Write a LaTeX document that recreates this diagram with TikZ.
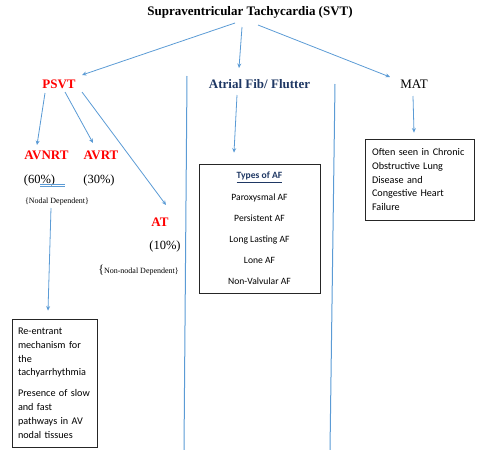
\documentclass[tikz,border=0pt]{standalone}
\usepackage{fontspec}
\setmainfont{Liberation Serif}
\newfontfamily\calfont{Carlito}
\usetikzlibrary{arrows.meta}
\definecolor{arrowblue}{HTML}{5B9BD5}
\definecolor{hred}{HTML}{FF0000}
\definecolor{hnavy}{HTML}{1F3864}
\tikzset{
  lbl/.style={inner sep=0pt, anchor=center},
  head/.style={lbl, font=\bfseries\fontsize{13}{15}\selectfont},
  pct/.style={lbl, font=\fontsize{12.5}{14}\selectfont},
  small/.style={lbl, font=\fontsize{8}{9}\selectfont},
  infobox/.style={draw=black!85, line width=0.8pt, inner ysep=0pt},
  conn/.style={draw=arrowblue, line width=0.8pt, -{Stealth[length=4.5pt,width=4pt]}},
  divider/.style={draw=arrowblue, line width=1pt}
}
\begin{document}
\begin{tikzpicture}[x=1pt,y=1pt]
\useasboundingbox (0,0) rectangle (477,-450);
% vertical dividers
\draw[divider] (187,-76) -- (184,-450);
\draw[divider] (335,-84) -- (330,-450);
% nodes
\node[head] (title) at (250,-12) {Supraventricular Tachycardia (SVT)};
\node[head, text=hred] (psvt) at (59,-84) {PSVT};
\node[head, text=hnavy] (af) at (259.5,-84) {Atrial Fib/ Flutter};
\node[lbl, font=\fontsize{13}{15}\selectfont] (mat) at (414,-84) {MAT};
\node[head, text=hred] (avnrt) at (46.5,-155) {AVNRT};
\node[head, text=hred] (avrt) at (101,-155) {AVRT};
\node[pct] (p60) at (39.5,-180) {(60\%)};
\node[pct] (p30) at (99,-180) {(30\%)};
\node[small] (nodal) at (57,-202) {\{Nodal Dependent\}};
\node[head, text=hred] (at) at (160,-222) {AT};
\node[pct] (p10) at (165,-246) {(10\%)};
\node[small] (nonnodal) at (138.5,-270) {{\fontsize{12}{12}\selectfont\{}Non-nodal Dependent\}};
\node[infobox, minimum width=121pt, minimum height=129pt, align=center,
      font=\calfont\fontsize{9.6}{21.2}\selectfont] (afbox) at (259.5,-228.5)
  {\textcolor{hnavy}{\underline{\textbf{Types of AF}}}\\
   Paroxysmal AF\\ Persistent AF\\ Long Lasting AF\\ Lone AF\\ Non-Valvular AF};
\node[infobox, minimum height=81pt, text width=95pt, inner xsep=7pt, align=left,
      font=\calfont\fontsize{10.2}{13.75}\selectfont] (matbox) at (419.5,-179.5)
  {Often seen in Chronic\\ Obstructive Lung\\ Disease and\\ Congestive Heart\\ Failure};
\node[infobox, minimum height=128pt, text width=73pt, inner xsep=6pt, align=left,
      font=\calfont\fontsize{10.2}{13.8}\selectfont] (rebox) at (54.5,-383)
  {Re-entrant\\ mechanism for\\ the\\ tachyarrhythmia\\[7pt]
   Presence of slow\\ and fast\\ pathways in AV\\ nodal tissues};
% double underline under "%)"
\draw[arrowblue, line width=0.6pt] ([shift={(0.5,-4)}]p60.center) -- ([shift={(25.5,-4)}]p60.center);
\draw[arrowblue, line width=0.6pt] ([shift={(0.5,-6)}]p60.center) -- ([shift={(25.5,-6)}]p60.center);
% connectors
\draw[conn] ([shift={(-15,-11)}]title.center) -- ([shift={(23,9)}]psvt.center);
\draw[conn] ([shift={(-8,-15)}]title.center) -- ([shift={(-20.5,16)}]af.center);
\draw[conn] ([shift={(8,-13)}]title.center) -- ([shift={(-24,7)}]mat.center);
\draw[conn] ([shift={(-14,-9)}]psvt.center) -- ([shift={(-9.5,10)}]avnrt.center);
\draw[conn] ([shift={(6,-8)}]psvt.center) -- ([shift={(-8,12)}]avrt.center);
\draw[conn] ([shift={(23,-8)}]psvt.center) -- ([shift={(6,17)}]at.center);
\draw[conn] ([shift={(-22.5,-11)}]af.center) -- ([shift={(-25.5,11)}]afbox.north);
\draw[conn] ([shift={(-1,-12)}]mat.center) -- ([shift={(-5.5,6)}]matbox.north);
\draw[conn] ([shift={(-6,-6)}]nodal.center) -- ([shift={(-6.5,8)}]rebox.north);
\end{tikzpicture}
\end{document}
